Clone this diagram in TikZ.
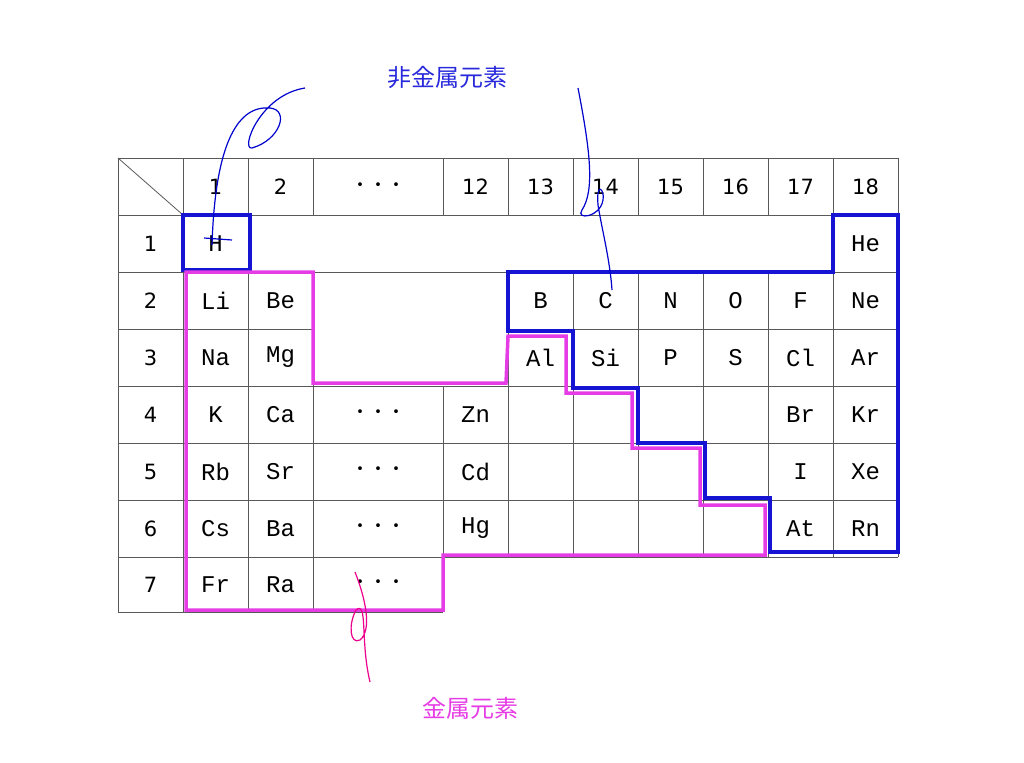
\documentclass[tikz,border=0pt]{standalone}
\usepackage{fontspec}
\setmainfont{DejaVu Sans}
\newfontfamily\cjk{Noto Sans CJK JP}
\newfontfamily\elm{Liberation Mono}
\begin{document}
\begin{tikzpicture}[x=1pt,y=-1pt,
  cell/.style={font=\fontsize{21}{21}\selectfont},
  sym/.style={font=\elm\fontsize{24}{24}\selectfont},
  grid/.style={gray!70!black,line width=0.8pt},
  nonmetal/.style={draw={rgb,255:red,20;green,20;blue,210},line width=4pt,line join=miter},
  metal/.style={draw={rgb,255:red,230;green,60;blue,230},line width=3.5pt,line join=miter},
  pen/.style={line width=1.2pt}]
\useasboundingbox (0,0) rectangle (1024,762);
% grid
\foreach \y/\a/\b in {158/118/898,215/118/898,272/118/898,329/118/313,329/508/898,386/118/898,443/118/898,500/118/898,557/118/898,612/118/443}
  \draw[grid] (\a,\y) -- (\b,\y);
\foreach \x in {118,183} \draw[grid] (\x,158) -- (\x,612);
\foreach \x in {248,313} {\draw[grid] (\x,158) -- (\x,215); \draw[grid] (\x,272) -- (\x,612);}
\draw[grid] (443,158) -- (443,215); \draw[grid] (443,386) -- (443,612);
\foreach \x in {508,573,638,703,768} {\draw[grid] (\x,158) -- (\x,215); \draw[grid] (\x,272) -- (\x,557);}
\foreach \x in {833,898} \draw[grid] (\x,158) -- (\x,557);
\draw[grid] (118,158) -- (183,215);
% headers
\foreach \c/\t in {215.5/1,280.5/2,475.5/12,540.5/13,605.5/14,670.5/15,735.5/16,800.5/17,865.5/18}
  \node[cell] (h\t) at (\c,187) {\t};
\node[font=\cjk\fontsize{18}{18}\selectfont] (hd) at (378,187) {・・・};
\foreach \r/\y in {1/243.5,2/300.5,3/357.5,4/414.5,5/471.5,6/528.5,7/584.5}
  \node[cell] (r\r) at (150.5,\y) {\r};
% elements
\foreach \n/\x/\y in {H/215.5/243.5,He/865.5/243.5,
 Li/215.5/300.5,Be/280.5/300.5,B/540.5/300.5,C/605.5/300.5,N/670.5/300.5,O/735.5/300.5,F/800.5/300.5,Ne/865.5/300.5,
 Na/215.5/357.5,Mg/280.5/357.5,Al/540.5/357.5,Si/605.5/357.5,P/670.5/357.5,S/735.5/357.5,Cl/800.5/357.5,Ar/865.5/357.5,
 K/215.5/414.5,Ca/280.5/414.5,Zn/475.5/414.5,Br/800.5/414.5,Kr/865.5/414.5,
 Rb/215.5/471.5,Sr/280.5/471.5,Cd/475.5/471.5,I/800.5/471.5,Xe/865.5/471.5,
 Cs/215.5/528.5,Ba/280.5/528.5,Hg/475.5/528.5,At/800.5/528.5,Rn/865.5/528.5,
 Fr/215.5/584.5,Ra/280.5/584.5}
  \node[sym] (e\n) at (\x,\y) {\n};
\foreach \y/\i in {414.5/4,471.5/5,528.5/6,584.5/7}
  \node[font=\cjk\fontsize{18}{18}\selectfont] (d\i) at (378,\y) {・・・};
% outlines
\draw[nonmetal] (183,215) rectangle (250,270);
\draw[nonmetal] (833,215) -- (898,215) -- (898,552) -- (770,552) -- (770,498) -- (705,498) -- (705,443) -- (638,443) -- (638,388) -- (573,388) -- (573,331) -- (508,331) -- (508,272) -- (833,272) -- cycle;
\draw[metal] (186,272) -- (313,272) -- (313,383) -- (506,383) -- (508,336) -- (566,336) -- (566,393) -- (632,393) -- (632,448) -- (700,448) -- (700,505) -- (765,505) -- (765,555) -- (443,555) -- (443,610) -- (186,610) -- cycle;
% handwriting
\draw[pen,blue!80!black] (305,88) .. controls (260,95) and (240,150) .. (252,148) .. controls (280,140) and (290,110) .. (270,108) .. controls (235,105) and (215,150) .. (212,245);
\draw[pen,blue!80!black] (204,238) -- (232,240);
\draw[pen,blue!80!black] (578,88) .. controls (590,150) and (595,190) .. (582,210) .. controls (575,220) and (600,218) .. (603,200) .. controls (605,190) and (596,180) .. (598,205) .. controls (602,230) and (610,260) .. (612,290);
\draw[pen,magenta] (370,682) .. controls (360,640) and (368,600) .. (356,610) .. controls (348,625) and (350,645) .. (360,640) .. controls (372,630) and (366,600) .. (355,572);
% labels
\node[font=\cjk\fontsize{24}{24}\selectfont, text={rgb,255:red,40;green,40;blue,220}] (lnm) at (447,78) {非金属元素};
\node[font=\cjk\fontsize{24}{24}\selectfont, text={rgb,255:red,230;green,60;blue,230}] (lm) at (470,708) {金属元素};
\end{tikzpicture}
\end{document}
